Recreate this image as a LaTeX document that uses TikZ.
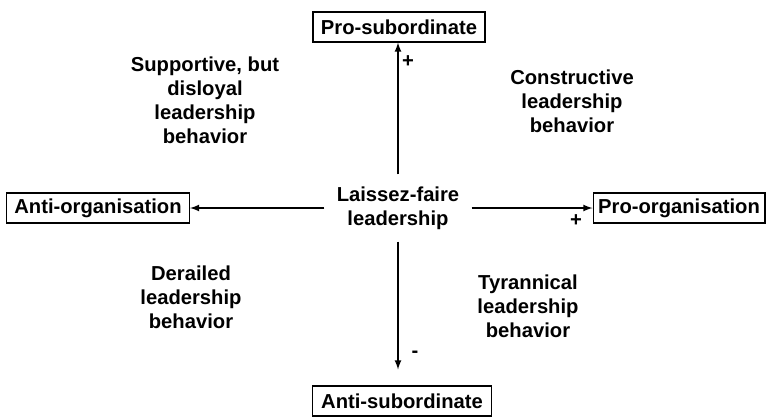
\documentclass[tikz,border=0pt]{standalone}
\usepackage{fontspec}
\setmainfont{Liberation Sans}
\usepackage{tikz}
\usetikzlibrary{arrows}
\tikzstyle{pole} = [rectangle, minimum height=0.6cm, text centered, draw=black, line width=0.6pt, inner sep=0pt]
\tikzstyle{quad} = [align=center, inner sep=0pt]
\tikzstyle{sign} = [inner sep=0pt]
\tikzstyle{arrow} = [line width=0.8pt,->,>=latex]

\begin{document}
\begin{tikzpicture}[x=0.02cm, y=-0.02cm, font=\fontsize{11.5}{13.6}\selectfont\bfseries]
	\useasboundingbox (0,0) rectangle (766,417);
	\node (lf) [quad, inner sep=0.24cm] at (398,208) {Laissez-faire\\leadership};
	\node (psub) [pole, minimum width=3.44cm] at (399,27) {Pro-subordinate};
	\node (asub) [pole, minimum width=3.58cm] at (402,401) {Anti-subordinate};
	\node (aorg) [pole, minimum width=3.66cm] at (98,208) {Anti-organisation};
	\node (porg) [pole, minimum width=3.44cm] at (679,208) {Pro-organisation};
	% quadrants
	\node (sup) [quad] at (205,100) {Supportive, but\\disloyal\\leadership\\behavior};
	\node (con) [quad] at (572,101) {Constructive\\leadership\\behavior};
	\node (der) [quad] at (191,297) {Derailed\\leadership\\behavior};
	\node (tyr) [quad] at (528,306) {Tyrannical\\leadership\\behavior};
	\draw [arrow] (lf.north) -- (lf.north |- psub.south);
	\draw [arrow, shorten >=0.32cm] (lf.south) -- (lf.south |- asub.north);
	\draw [arrow] (lf.west) -- (lf.west -| aorg.east);
	\draw [arrow] (lf.east) -- (lf.east -| porg.west);
	\node (p1) [sign] at (408,62) {+};
	\node (m1) [sign] at (415,354) {-};
	\node (p2) [sign] at (576,221) {+};
\end{tikzpicture}
\end{document}
